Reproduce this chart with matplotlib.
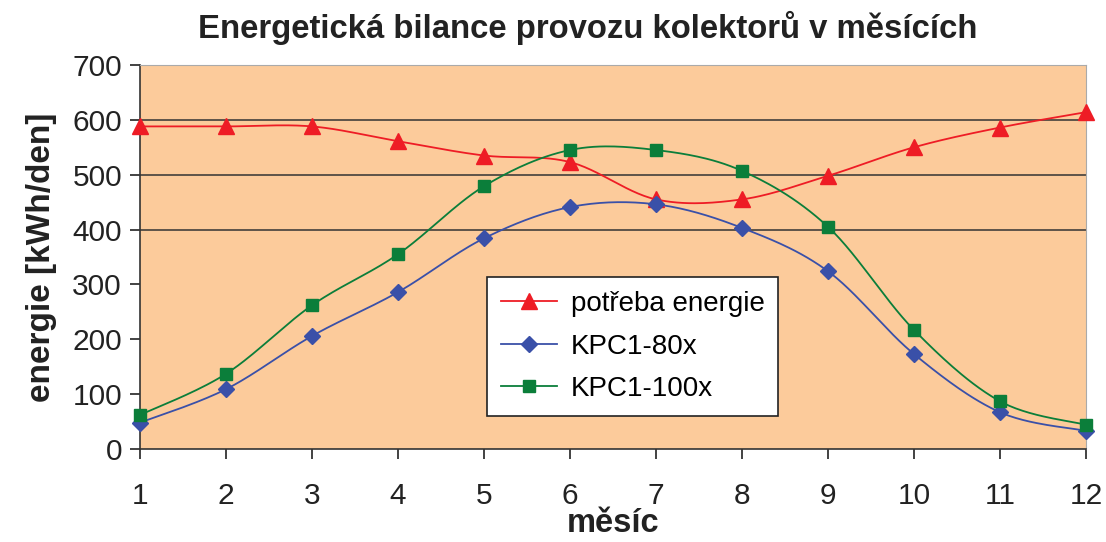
import matplotlib.pyplot as plt
import numpy as np

plt.rcParams['font.family'] = ['Liberation Sans', 'DejaVu Sans']

# data
mesic = [1, 2, 3, 4, 5, 6, 7, 8, 9, 10, 11, 12]
potreba = [588, 588, 588, 561, 535, 523, 455, 455, 498, 550, 586, 614]
kpc80 = [48, 109, 206, 286, 384, 441, 446, 403, 324, 173, 67, 33]
kpc100 = [62, 137, 262, 355, 479, 545, 545, 507, 405, 217, 87, 44]


def smooth(x, y, n=30):
    # Catmull-Rom style smoothing (like Excel "smoothed line")
    x = np.asarray(x, float)
    y = np.asarray(y, float)
    px = np.concatenate([[x[0]], x, [x[-1]]])
    py = np.concatenate([[y[0]], y, [y[-1]]])
    xs, ys = [], []
    t = np.linspace(0, 1, n)
    for i in range(1, len(px) - 2):
        p0, p1, p2, p3 = (np.array([px[j], py[j]]) for j in (i - 1, i, i + 1, i + 2))
        c1 = p1 + (p2 - p0) / 6
        c2 = p2 - (p3 - p1) / 6
        b = ((1 - t) ** 3)[:, None] * p1 + (3 * (1 - t) ** 2 * t)[:, None] * c1 \
            + (3 * (1 - t) * t ** 2)[:, None] * c2 + (t ** 3)[:, None] * p2
        xs.extend(b[:, 0])
        ys.extend(b[:, 1])
    return xs, ys


fig = plt.figure(figsize=(11.06, 5.42), dpi=100)
ax = fig.add_axes([0.1266, 0.1716, 0.8553, 0.7085])
ax.set_facecolor('#fccb9b')

for v in [400, 500, 600]:
    ax.axhline(v, color='#333333', lw=1.1, zorder=1)

series = [
    (potreba, '#ee1c25', '^', 'potřeba energie', 11),
    (kpc80, '#3a50a8', 'D', 'KPC1-80x', 8),
    (kpc100, '#0b7e3a', 's', 'KPC1-100x', 9),
]
handles = []
for y, col, mk, lab, ms in series:
    sx, sy = smooth(mesic, y)
    ax.plot(sx, sy, color=col, lw=1.3, zorder=2)
    ax.plot(mesic, y, ls='none', marker=mk, color=col, ms=ms, zorder=3, clip_on=False)
    h, = ax.plot([], [], color=col, lw=1.3, marker=mk, ms=ms, label=lab)
    handles.append(h)

ax.set_xlim(1, 12)
ax.set_ylim(0, 700)
ax.set_xticks(mesic)
ax.set_yticks(range(0, 701, 100))
ax.tick_params(labelsize=21.5, colors='#222222', length=7, width=1.2, pad=17)
ax.tick_params(axis='y', pad=6)
for s in ['top', 'right']:
    ax.spines[s].set_color('#aaaaaa')
for s in ['left', 'bottom']:
    ax.spines[s].set_color('#333333')
    ax.spines[s].set_linewidth(1.2)

fig.text(0.531, 0.948, 'Energetická bilance provozu kolektorů v měsících', fontsize=23.7,
         fontweight='bold', color='#222222', ha='center', va='center')
ax.set_xlabel('měsíc', fontsize=23.5, fontweight='bold', color='#222222', labelpad=-2)
ax.set_ylabel('energie [kWh/den]', fontsize=24, fontweight='bold', color='#222222', labelpad=11)

leg = ax.legend(handles=handles, loc='upper left', bbox_to_anchor=(0.367, 0.448),
                fontsize=20, frameon=True, fancybox=False, edgecolor='#222222',
                framealpha=1, handlelength=2.0, handletextpad=0.5,
                labelspacing=0.6, borderpad=0.5, borderaxespad=0)
leg.get_frame().set_linewidth(1.2)

fig.savefig('out.png', dpi=100)
